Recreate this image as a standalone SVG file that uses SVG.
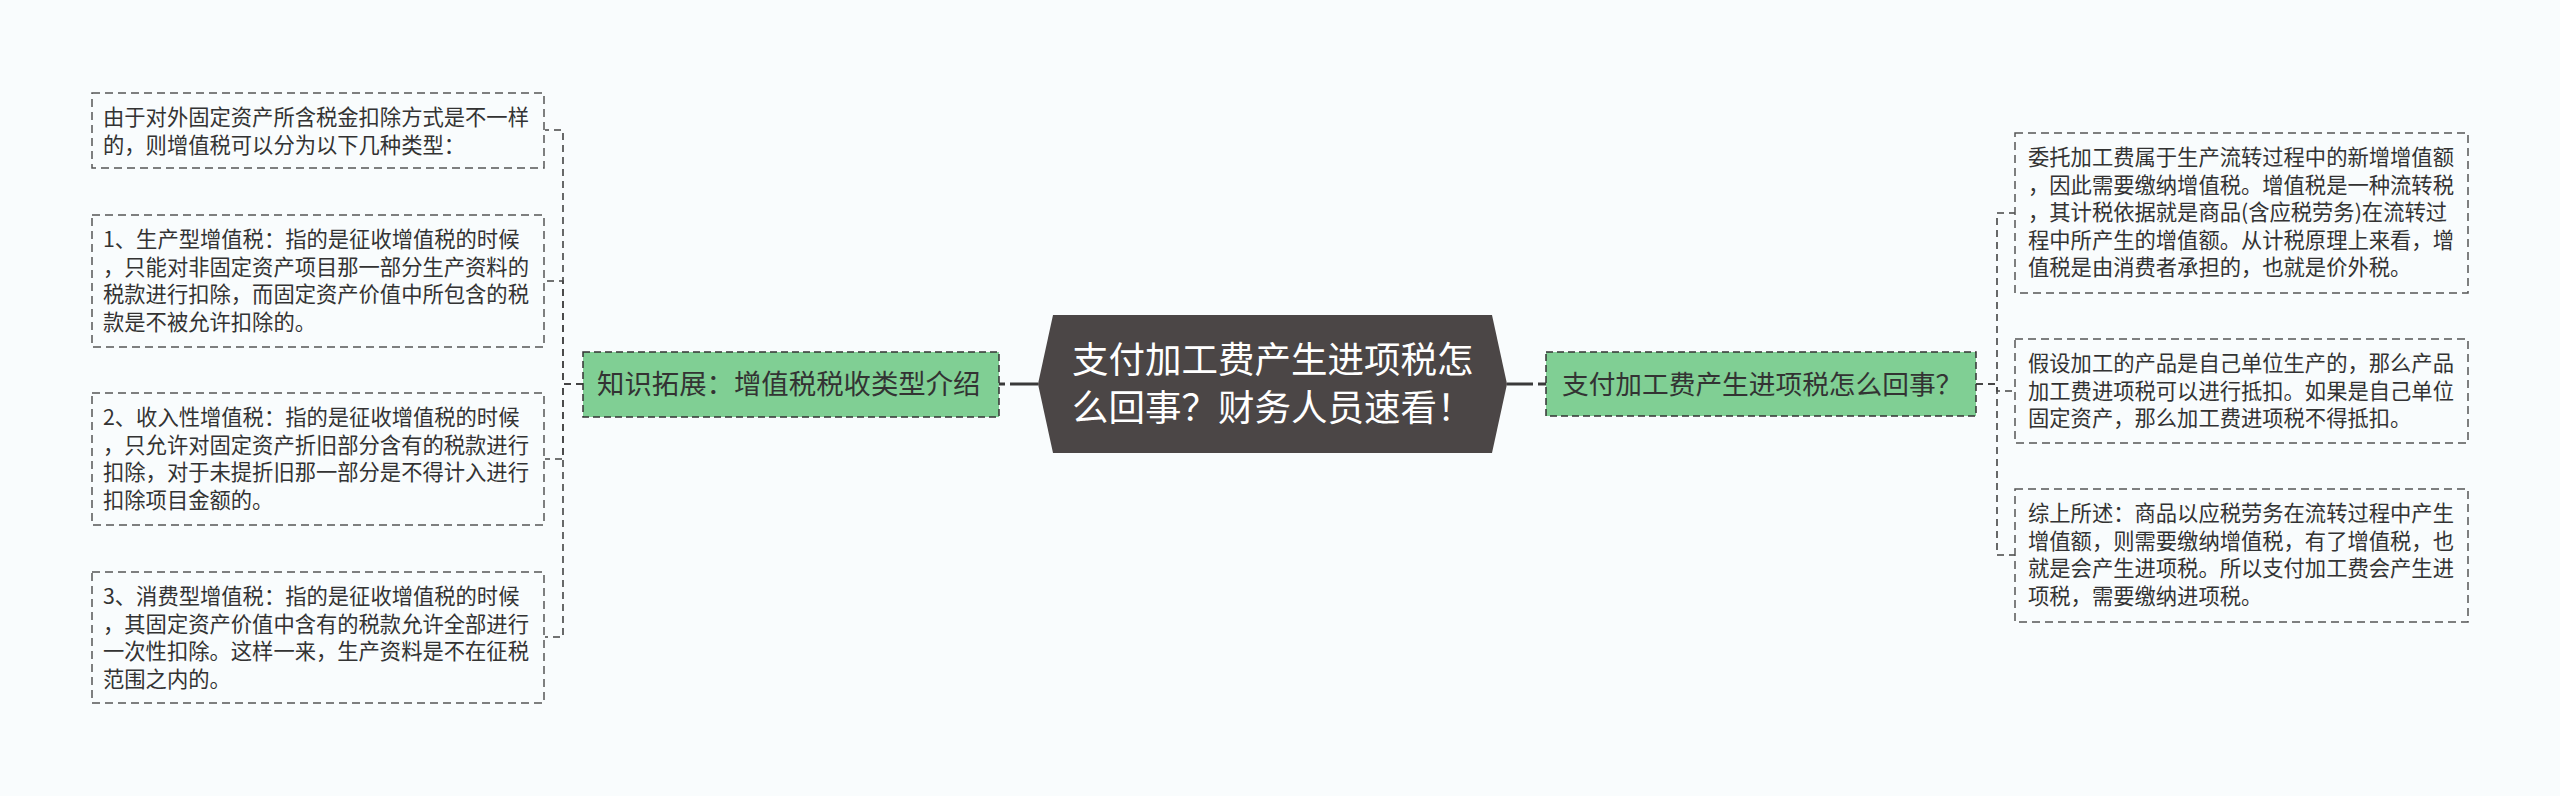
<svg xmlns="http://www.w3.org/2000/svg" width="2560" height="796" viewBox="0 0 2560 796">
<style>
.bg{fill:#f9fcfd}
.box{fill:none;stroke:#555;stroke-width:1.5;stroke-dasharray:8 5}
.green{fill:#80cf94;stroke:#333;stroke-width:1.5;stroke-dasharray:7 4}
.t{font-family:"Noto Sans CJK SC","Noto Sans",sans-serif;font-size:21.3px;fill:#333}
.g{font-family:"Noto Sans CJK SC","Noto Sans",sans-serif;font-size:26.7px;fill:#333}
.c{font-family:"Noto Sans CJK SC","Noto Sans",sans-serif;font-size:36.5px;fill:#fff}
.conn{fill:none;stroke:#444;stroke-width:1.6;stroke-dasharray:7 5}
.main{fill:none;stroke:#3a3a3a;stroke-width:3}
</style>
<rect class="bg" x="0" y="0" width="2560" height="796"/>
<g id="connectors">
<path class="main" d="M1038,384 H999" stroke-dasharray="28 5 6"/>
<path class="main" d="M1507,384 H1546" stroke-dasharray="26 5 8"/>
<path class="conn" d="M583,384 H563 V130 H545"/>
<path class="conn" d="M583,384 H563 V281 H545"/>
<path class="conn" d="M583,384 H563 V459 H545"/>
<path class="conn" d="M583,384 H563 V637 H545"/>
<path class="conn" d="M1976,384 H1997 V213 H2015"/>
<path class="conn" d="M1976,384 H1997 V391 H2015"/>
<path class="conn" d="M1976,384 H1997 V555 H2015"/>
</g>
<g id="center">
<polygon points="1038,384 1053,315 1492,315 1507,384 1492,453 1053,453" fill="#4b4646"/>
<text class="c" x="1072" y="373">支付加工费产生进项税怎</text>
<text class="c" x="1072" y="421">么回事？财务人员速看！</text>
</g>
<g id="left-topic">
<rect class="green" x="583" y="352" width="416" height="65"/>
<text class="g" x="597" y="394" style="font-size:27.4px">知识拓展：增值税税收类型介绍</text>
</g>
<g id="right-topic">
<rect class="green" x="1546" y="352" width="430" height="64"/>
<text class="g" x="1562" y="394">支付加工费产生进项税怎么回事？</text>
</g>
<g id="box-a">
<rect class="box" x="92" y="93" width="452" height="75"/>
<text class="t"><tspan x="103" y="125">由于对外固定资产所含税金扣除方式是不一样</tspan><tspan x="103" y="152.5">的，则增值税可以分为以下几种类型：</tspan></text>
</g>
<g id="box-b">
<rect class="box" x="92" y="215" width="452" height="132"/>
<text class="t"><tspan x="103" y="247">1、生产型增值税：指的是征收增值税的时候</tspan><tspan x="103" y="274.5">，只能对非固定资产项目那一部分生产资料的</tspan><tspan x="103" y="302">税款进行扣除，而固定资产价值中所包含的税</tspan><tspan x="103" y="329.5">款是不被允许扣除的。</tspan></text>
</g>
<g id="box-c">
<rect class="box" x="92" y="393" width="452" height="132"/>
<text class="t"><tspan x="103" y="425">2、收入性增值税：指的是征收增值税的时候</tspan><tspan x="103" y="452.5">，只允许对固定资产折旧部分含有的税款进行</tspan><tspan x="103" y="480">扣除，对于未提折旧那一部分是不得计入进行</tspan><tspan x="103" y="507.5">扣除项目金额的。</tspan></text>
</g>
<g id="box-d">
<rect class="box" x="92" y="572" width="452" height="131"/>
<text class="t"><tspan x="103" y="604">3、消费型增值税：指的是征收增值税的时候</tspan><tspan x="103" y="631.5">，其固定资产价值中含有的税款允许全部进行</tspan><tspan x="103" y="659">一次性扣除。这样一来，生产资料是不在征税</tspan><tspan x="103" y="686.5">范围之内的。</tspan></text>
</g>
<g id="box-e">
<rect class="box" x="2015" y="133" width="453" height="160"/>
<text class="t"><tspan x="2028" y="165">委托加工费属于生产流转过程中的新增增值额</tspan><tspan x="2028" y="192.5">，因此需要缴纳增值税。增值税是一种流转税</tspan><tspan x="2028" y="220">，其计税依据就是商品(含应税劳务)在流转过</tspan><tspan x="2028" y="247.5">程中所产生的增值额。从计税原理上来看，增</tspan><tspan x="2028" y="275">值税是由消费者承担的，也就是价外税。</tspan></text>
</g>
<g id="box-f">
<rect class="box" x="2015" y="339" width="453" height="104"/>
<text class="t"><tspan x="2028" y="371">假设加工的产品是自己单位生产的，那么产品</tspan><tspan x="2028" y="398.5">加工费进项税可以进行抵扣。如果是自己单位</tspan><tspan x="2028" y="426">固定资产，那么加工费进项税不得抵扣。</tspan></text>
</g>
<g id="box-g">
<rect class="box" x="2015" y="489" width="453" height="133"/>
<text class="t"><tspan x="2028" y="521">综上所述：商品以应税劳务在流转过程中产生</tspan><tspan x="2028" y="548.5">增值额，则需要缴纳增值税，有了增值税，也</tspan><tspan x="2028" y="576">就是会产生进项税。所以支付加工费会产生进</tspan><tspan x="2028" y="603.5">项税，需要缴纳进项税。</tspan></text>
</g>
</svg>
